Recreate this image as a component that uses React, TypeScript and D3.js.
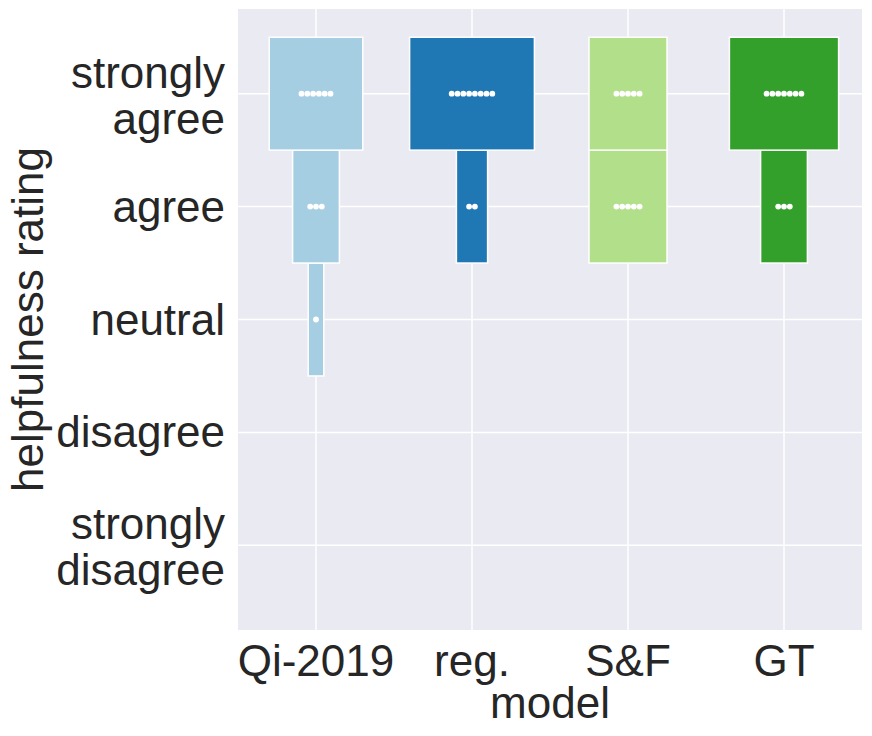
import * as d3 from 'd3';
import { useEffect, useRef } from 'react';

const models = ['Qi-2019', 'reg.', 'S&F', 'GT'];
const colors = ['#a6cee3', '#1f78b4', '#b2df8a', '#33a02c'];
const ratingLabels = [
  ['strongly', 'disagree'],
  ['disagree'],
  ['neutral'],
  ['agree'],
  ['strongly', 'agree'],
];
const ratingValues = [1, 2, 3, 4, 5];

// counts of responses per rating level (1..5) for each model
const qiCounts = [0, 0, 1, 3, 6];
const regCounts = [0, 0, 0, 2, 8];
const sfCounts = [0, 0, 0, 5, 5];
const gtCounts = [0, 0, 0, 3, 7];
const allCounts = [qiCounts, regCounts, sfCounts, gtCounts];

const W = 872;
const H = 736;
const FONT = "'Liberation Sans', Arial, sans-serif";
const TEXT = '#262626';

export default function App() {
  const ref = useRef<SVGSVGElement>(null);

  useEffect(() => {
    const svg = d3.select(ref.current);
    svg.selectAll('*').remove();

    const plot = { left: 238, right: 862, top: 9, bottom: 630 };

    const x = d3
      .scaleBand()
      .domain(models)
      .range([plot.left, plot.right])
      .padding(0);

    const y = d3
      .scaleLinear()
      .domain([0.25, 5.75])
      .range([plot.bottom, plot.top]);

    const w = d3
      .scaleLinear()
      .domain([0, 10])
      .range([0, x.bandwidth()]);

    svg
      .append('rect')
      .attr('x', plot.left)
      .attr('y', plot.top)
      .attr('width', plot.right - plot.left)
      .attr('height', plot.bottom - plot.top)
      .attr('fill', '#eaeaf2');

    // grid
    svg
      .selectAll('.hgrid')
      .data(ratingValues)
      .enter()
      .append('line')
      .attr('x1', plot.left)
      .attr('x2', plot.right)
      .attr('y1', (d) => y(d))
      .attr('y2', (d) => y(d))
      .attr('stroke', 'white')
      .attr('stroke-width', 1.5);

    svg
      .selectAll('.vgrid')
      .data(models)
      .enter()
      .append('line')
      .attr('x1', (d) => x(d)! + x.bandwidth() / 2)
      .attr('x2', (d) => x(d)! + x.bandwidth() / 2)
      .attr('y1', plot.top)
      .attr('y2', plot.bottom)
      .attr('stroke', 'white')
      .attr('stroke-width', 1.5);

    // bars per rating level
    models.forEach((m, mi) => {
      const cx = x(m)! + x.bandwidth() / 2;
      const g = svg.append('g');
      allCounts[mi].forEach((c, ri) => {
        if (c === 0) return;
        const r = ratingValues[ri];
        g.append('rect')
          .attr('x', cx - w(c) / 2)
          .attr('y', y(r + 0.5))
          .attr('width', w(c))
          .attr('height', y(r - 0.5) - y(r + 0.5))
          .attr('fill', colors[mi])
          .attr('stroke', 'white')
          .attr('stroke-width', 1.5);
        const step = 5.8;
        d3.range(c).forEach((k) => {
          g.append('circle')
            .attr('cx', cx + (k - (c - 1) / 2) * step)
            .attr('cy', y(r))
            .attr('r', 2.9)
            .attr('fill', 'white');
        });
      });
    });

    // y tick labels
    ratingValues.forEach((r, i) => {
      const lines = ratingLabels[i];
      const t = svg
        .append('text')
        .attr('text-anchor', 'end')
        .attr('font-family', FONT)
        .attr('font-size', 44)
        .attr('fill', TEXT);
      const base = lines.length === 1 ? y(r) + 15 : y(r) - 6;
      lines.forEach((ln, li) => {
        t.append('tspan')
          .attr('x', 225)
          .attr('y', base + li * 46)
          .text(ln);
      });
    });

    // x tick labels
    svg
      .selectAll('.xtick')
      .data(models)
      .enter()
      .append('text')
      .attr('x', (d) => x(d)! + x.bandwidth() / 2)
      .attr('y', 676)
      .attr('text-anchor', 'middle')
      .attr('font-family', FONT)
      .attr('font-size', 44)
      .attr('fill', TEXT)
      .text((d) => d);

    svg
      .append('text')
      .attr('x', (plot.left + plot.right) / 2)
      .attr('y', 718)
      .attr('text-anchor', 'middle')
      .attr('font-family', FONT)
      .attr('font-size', 44)
      .attr('fill', TEXT)
      .text('model');

    svg
      .append('text')
      .attr('transform', `translate(43, ${(plot.top + plot.bottom) / 2}) rotate(-90)`)
      .attr('text-anchor', 'middle')
      .attr('font-family', FONT)
      .attr('font-size', 44)
      .attr('fill', TEXT)
      .text('helpfulness rating');
  }, []);

  return (
    <svg
      ref={ref}
      width={W}
      height={H}
      style={{ position: 'absolute', left: 0, top: 0, background: 'white' }}
    />
  );
}
